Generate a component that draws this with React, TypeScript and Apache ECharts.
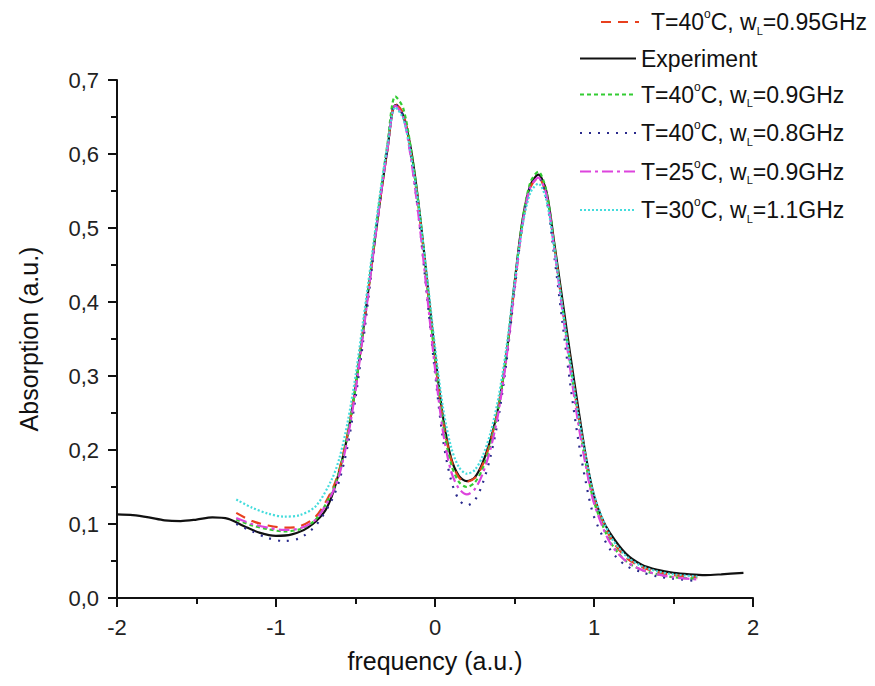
import React, { useEffect, useRef } from 'react';
import * as echarts from 'echarts';

const FONT = '"Liberation Sans", Arial, Helvetica, sans-serif';

// Experiment (black solid)
const expX = [-2.0, -1.9, -1.8, -1.7, -1.6, -1.5, -1.4, -1.3, -1.2, -1.1,
  -1.0, -0.9, -0.8, -0.7, -0.65, -0.6, -0.55, -0.5, -0.45, -0.4,
  -0.35, -0.3, -0.25, -0.2, -0.15, -0.1, -0.05, 0, 0.05, 0.1,
  0.15, 0.2, 0.25, 0.3, 0.35, 0.4, 0.45, 0.5, 0.55, 0.6,
  0.65, 0.7, 0.75, 0.8, 0.85, 0.9, 0.95, 1.0, 1.05, 1.1,
  1.2, 1.3, 1.4, 1.5, 1.6, 1.7, 1.8, 1.94];
const expY = [0.113, 0.112, 0.109, 0.105, 0.104, 0.106, 0.109, 0.107, 0.097, 0.088,
  0.084, 0.086, 0.095, 0.115, 0.137, 0.173, 0.22, 0.285, 0.365, 0.448,
  0.53, 0.605, 0.666, 0.652, 0.605, 0.527, 0.43, 0.33, 0.245, 0.19,
  0.165, 0.158, 0.163, 0.183, 0.215, 0.26, 0.33, 0.425, 0.51, 0.558,
  0.572, 0.55, 0.48, 0.405, 0.33, 0.258, 0.19, 0.138, 0.108, 0.088,
  0.06, 0.045, 0.038, 0.034, 0.032, 0.031, 0.032, 0.034];

// Model curves share one x grid
const modelX = [-1.25, -1.15, -1.05, -0.95, -0.85, -0.75, -0.65, -0.6, -0.55, -0.5,
  -0.45, -0.4, -0.35, -0.3, -0.25, -0.2, -0.15, -0.1, -0.05, 0,
  0.05, 0.1, 0.15, 0.2, 0.25, 0.3, 0.35, 0.4, 0.45, 0.5,
  0.55, 0.6, 0.65, 0.7, 0.75, 0.8, 0.85, 0.9, 0.95, 1.0,
  1.1, 1.2, 1.3, 1.4, 1.5, 1.65];

const fitT40W095 = [0.115, 0.104, 0.098, 0.095, 0.097, 0.11, 0.145, 0.175, 0.222, 0.285,
  0.365, 0.447, 0.53, 0.605, 0.668, 0.655, 0.6, 0.522, 0.425, 0.325,
  0.24, 0.188, 0.163, 0.157, 0.162, 0.18, 0.212, 0.26, 0.33, 0.42,
  0.505, 0.555, 0.568, 0.545, 0.475, 0.395, 0.32, 0.248, 0.185, 0.135,
  0.083, 0.055, 0.042, 0.035, 0.031, 0.028];
const fitT40W09 = [0.106, 0.098, 0.093, 0.09, 0.093, 0.106, 0.142, 0.172, 0.22, 0.284,
  0.365, 0.45, 0.535, 0.612, 0.678, 0.662, 0.605, 0.525, 0.425, 0.322,
  0.235, 0.182, 0.157, 0.15, 0.156, 0.175, 0.208, 0.258, 0.33, 0.423,
  0.51, 0.562, 0.576, 0.55, 0.478, 0.395, 0.317, 0.243, 0.18, 0.13,
  0.077, 0.05, 0.038, 0.032, 0.028, 0.026];
const fitT40W08 = [0.1, 0.09, 0.081, 0.077, 0.081, 0.098, 0.132, 0.16, 0.205, 0.27,
  0.35, 0.44, 0.53, 0.607, 0.668, 0.652, 0.595, 0.51, 0.408, 0.305,
  0.215, 0.16, 0.133, 0.125, 0.132, 0.155, 0.192, 0.245, 0.32, 0.415,
  0.505, 0.557, 0.568, 0.54, 0.462, 0.375, 0.29, 0.215, 0.155, 0.11,
  0.066, 0.044, 0.035, 0.029, 0.026, 0.023];
const fitT25W09 = [0.108, 0.1, 0.095, 0.092, 0.094, 0.106, 0.14, 0.168, 0.215, 0.28,
  0.36, 0.445, 0.53, 0.605, 0.665, 0.65, 0.592, 0.51, 0.41, 0.31,
  0.225, 0.172, 0.148, 0.14, 0.147, 0.168, 0.202, 0.252, 0.325, 0.418,
  0.505, 0.555, 0.568, 0.545, 0.472, 0.39, 0.31, 0.237, 0.177, 0.128,
  0.075, 0.05, 0.038, 0.032, 0.028, 0.025];
const fitT30W11 = [0.133, 0.122, 0.114, 0.11, 0.112, 0.124, 0.16, 0.19, 0.237, 0.3,
  0.378, 0.458, 0.54, 0.61, 0.663, 0.648, 0.598, 0.525, 0.435, 0.34,
  0.258, 0.205, 0.177, 0.168, 0.173, 0.192, 0.224, 0.272, 0.34, 0.425,
  0.502, 0.548, 0.56, 0.538, 0.472, 0.395, 0.32, 0.25, 0.19, 0.14,
  0.085, 0.057, 0.043, 0.036, 0.032, 0.029];

const fitTemps = ['40', '40', '40', '25', '30'];
const fitWidths = ['0.95', '0.9', '0.8', '0.9', '1.1'];
const fitValues = [fitT40W095, fitT40W09, fitT40W08, fitT25W09, fitT30W11];
const fitColors = ['#e8401e', '#33cc33', '#2a2a8c', '#dd44dd', '#44dcdc'];
const fitDashes: any[] = [[10, 7], [4, 3], [2, 7], [11, 4, 3, 4], [2, 2]];
const expName = 'Experiment';
const fitNames = fitTemps.map((t, i) => `T=${t}°C, wL=${fitWidths[i]}GHz`);

const yTickFmt = (v: number) => v.toFixed(1).replace('.', ',');

const legendFmt = (name: string) => {
  const i = fitNames.indexOf(name);
  if (i < 0) return `{n|${name}}`;
  return `{n|T=${fitTemps[i]}}{sup|o}{n|C, w}{sub|L}{n|=${fitWidths[i]}GHz}`;
};

const legendText = {
  fontFamily: FONT,
  fontSize: 23,
  color: '#111',
  rich: {
    n: { fontFamily: FONT, fontSize: 23, lineHeight: 28, color: '#111' },
    sup: { fontFamily: FONT, fontSize: 12, lineHeight: 20, verticalAlign: 'top', color: '#111' },
    sub: { fontFamily: FONT, fontSize: 11, lineHeight: 3, verticalAlign: 'bottom', color: '#111' },
  },
};

export default function App() {
  const ref = useRef<HTMLDivElement>(null);
  useEffect(() => {
    document.body.style.margin = '0';
    if (!ref.current) return;
    const chart = echarts.init(ref.current, null, { renderer: 'svg' });

    const fitSeries = fitNames.map((name, i) => ({
      name,
      type: 'line',
      data: modelX.map((x, k) => [x, fitValues[i][k]]),
      showSymbol: false,
      symbol: 'none',
      legendIcon: 'none',
      smooth: 0.3,
      lineStyle: { color: fitColors[i], width: 2.2, type: fitDashes[i] },
      itemStyle: { color: fitColors[i] },
      z: 3,
    }));
    const expSeries = {
      name: expName,
      type: 'line',
      data: expX.map((x, k) => [x, expY[k]]),
      showSymbol: false,
      symbol: 'none',
      legendIcon: 'none',
      smooth: 0.3,
      lineStyle: { color: '#111', width: 2.2, type: 'solid' },
      itemStyle: { color: '#111' },
      z: 2,
    };

    const legendItemStyle = { color: 'rgba(0,0,0,0)', borderWidth: 0, opacity: 0 };

    chart.setOption({
      animation: false,
      backgroundColor: '#fff',
      grid: { left: 117, right: 122, top: 80, bottom: 88, containLabel: false, outerBoundsMode: 'none' },
      legend: [
        {
          data: [fitNames[0]],
          orient: 'vertical',
          left: 600,
          top: 8,
          padding: 0,
          itemWidth: 38,
          itemHeight: 14,
          itemStyle: legendItemStyle,
          textStyle: { ...legendText, padding: [0, 0, 0, 7] },
          formatter: legendFmt,
          selectedMode: false,
        },
        {
          data: [expName, fitNames[1], fitNames[2], fitNames[3], fitNames[4]],
          orient: 'vertical',
          left: 579,
          top: 47,
          padding: 0,
          itemGap: 10.5,
          itemWidth: 56,
          itemHeight: 14,
          itemStyle: legendItemStyle,
          textStyle: legendText,
          formatter: legendFmt,
          selectedMode: false,
        },
      ],
      xAxis: {
        type: 'value',
        min: -2,
        max: 2,
        interval: 1,
        name: 'frequency (a.u.)',
        nameLocation: 'middle',
        nameGap: 50,
        nameTextStyle: { fontFamily: FONT, fontSize: 25, color: '#111' },
        axisLine: { show: true, onZero: false, lineStyle: { color: '#111', width: 2 } },
        axisTick: { show: true, inside: false, length: 9, lineStyle: { color: '#111', width: 2 } },
        minorTick: { show: true, splitNumber: 2, length: 6, lineStyle: { color: '#111', width: 2 } },
        axisLabel: { fontFamily: FONT, fontSize: 22, color: '#222', margin: 18 },
        splitLine: { show: false },
      },
      yAxis: {
        type: 'value',
        min: 0,
        max: 0.7,
        interval: 0.1,
        name: 'Absorption (a.u.)',
        nameLocation: 'middle',
        nameGap: 76,
        nameTextStyle: { fontFamily: FONT, fontSize: 25, color: '#111' },
        axisLine: { show: true, onZero: false, lineStyle: { color: '#111', width: 2 } },
        axisTick: { show: true, inside: false, length: 9, lineStyle: { color: '#111', width: 2 } },
        minorTick: { show: true, splitNumber: 2, length: 6, lineStyle: { color: '#111', width: 2 } },
        axisLabel: { fontFamily: FONT, fontSize: 22, color: '#222', margin: 18, formatter: yTickFmt },
        splitLine: { show: false },
      },
      series: [fitSeries[0], expSeries, ...fitSeries.slice(1)],
    });
    return () => chart.dispose();
  }, []);
  return <div ref={ref} style={{ width: 875, height: 686 }} />;
}
